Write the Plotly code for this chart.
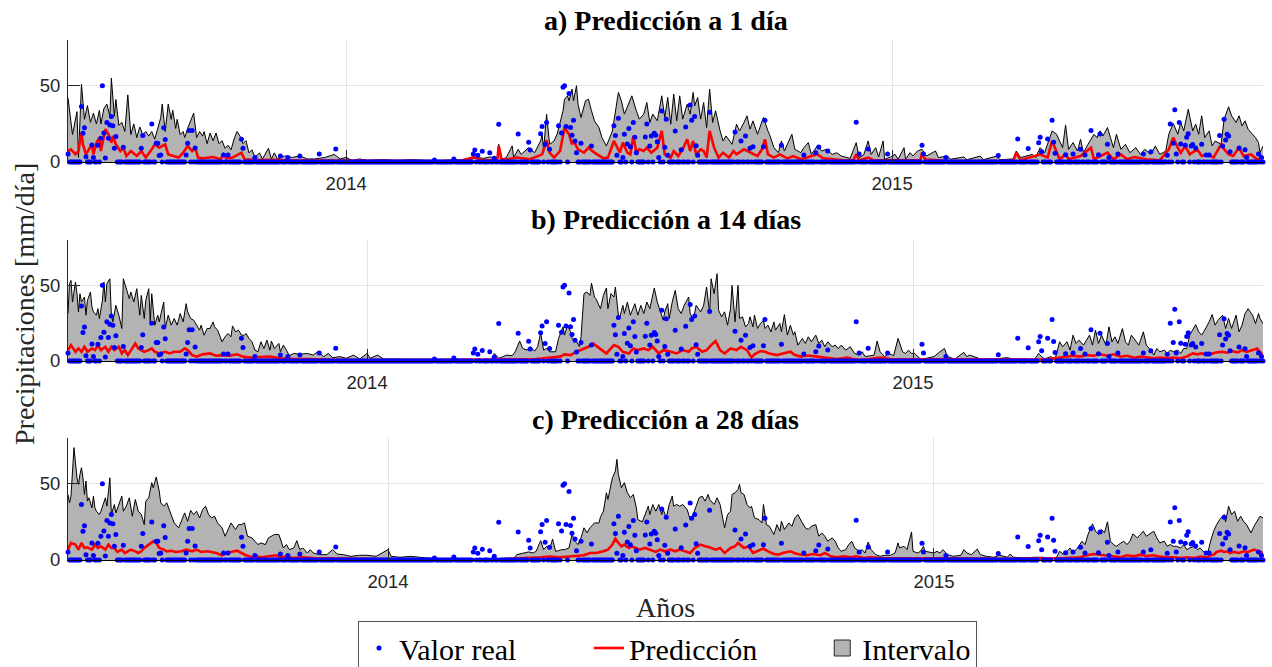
import pandas as pd
import plotly.graph_objects as go

# ---------------- data ----------------
N_DAYS = 800                                              # days shown in every panel
PANEL_START = ["2013-06-29", "2013-06-15", "2013-06-01"]  # first plotted date of each panel
TITLES = ["a) Predicción a 1 día", "b) Predicción a 14 días", "c) Predicción a 28 días"]
YEAR_TICKS = ["2014-01-01", "2015-01-01"]
YEAR_LABELS = ["2014", "2015"]
Y_TICKS = [0, 50]
Y_LABELS = ["0", "50"]

# observed rain (day index, mm/día); every other day reads 0
OBS_RAIN = [(0,5.3),(9,36.4),(10,18.9),(11,22.4),(12,3.5),(16,11.2),(17,3.0),(20,11.0),(22,15.6),(23,50.0),(24,19.0),(25,2.6),(26,25.9),(27,15.6),(28,24.3),(29,29.8),(30,23.7),(31,9.0),(32,16.7),(37,9.6),(49,9.0),(50,17.3),(56,25.0),(59,12.3),(60,12.3),(61,4.2),(62,4.6),(64,22.4),(65,14.7),(79,4.6),(80,12.3),(81,20.6),(83,20.6),(85,9.2),(104,4.6),(107,4.6),(116,15.0),(117,9.0),(125,3.0),(142,4.0),(147,3.0),(155,4.0),(168,5.3),(179,8.5),(245,1.3),(258,2.0),(271,5.3),(272,7.9),(274,4.4),(277,7.0),(282,6.1),(285,2.5),(288,24.8),(301,18.4),(308,13.0),(309,7.9),(316,18.6),(317,23.2),(319,11.6),(320,25.9),(322,8.3),(328,23.7),(330,19.0),(331,49.0),(332,50.0),(333,23.2),(335,45.0),(336,22.6),(337,17.5),(338,27.4),(339,13.8),(340,6.0),(343,12.3),(350,10.5),(365,23.7),(366,17.3),(367,4.4),(368,28.7),(371,3.0),(372,18.2),(374,11.8),(375,21.9),(376,10.0),(378,25.9),(379,16.2),(380,6.0),(386,16.4),(387,25.0),(389,10.5),(390,17.1),(392,18.9),(393,17.5),(394,13.2),(395,3.0),(397,33.5),(399,9.6),(400,28.0),(401,4.4),(406,20.4),(410,8.0),(413,23.0),(416,37.3),(417,27.4),(419,29.8),(420,10.7),(421,4.4),(429,32.7),(446,19.7),(450,13.8),(453,17.1),(456,9.0),(458,10.0),(465,10.0),(466,27.4),(477,11.0),(492,4.6),(500,6.1),(502,9.9),(508,7.2),(527,26.0),(529,5.3),(535,8.5),(548,5.3),(571,11.0),(572,5.3),(587,3.0),(622,4.2),(635,15.1),(642,8.8),(649,12.7),(650,16.2),(651,6.8),(655,15.1),(658,27.4),(659,12.9),(660,5.7),(667,4.8),(672,5.3),(677,8.3),(680,4.6),(684,20.6),(689,4.8),(690,18.4),(695,11.6),(696,3.0),(702,5.3),(719,5.3),(724,6.8),(735,4.4),(737,25.0),(739,12.3),(740,34.2),(741,5.3),(743,25.9),(744,11.8),(747,11.0),(748,16.2),(749,18.6),(751,10.5),(752,11.5),(754,9.2),(758,11.6),(761,4.6),(763,4.6),(770,17.3),(772,10.5),(773,28.0),(774,14.5),(775,18.2),(776,17.1),(777,6.8),(783,9.2),(787,8.1),(788,3.0),(796,5.3),(798,3.0)]

# upper bound of the interval (day index, mm/día)
UPPER_A = [(0,42),(3,18),(6,33),(7,3),(9,51),(11,28),(13,37),(15,26),(17,32),(19,25),(21,34),(22,25),(24,35),(26,38),(28,30),(29,55),(31,30),(32,41),(34,24),(36,26),(38,20),(40,44),(42,18),(44,25),(46,16),(48,23),(50,18),(52,20),(54,17),(56,20),(58,15),(60,22),(62,29),(63,38),(65,20),(67,38),(69,28),(70,34),(72,22),(73,28),(75,18),(77,20),(78,16),(80,22),(82,27),(84,32),(86,16),(88,20),(90,17),(91,20),(93,12),(95,19),(97,14),(99,19),(101,12),(103,14),(105,9),(107,11),(109,8),(111,15),(113,20),(115,17),(117,12),(119,14),(121,6),(123,8),(125,3),(128,6),(130,2),(134,9),(136,2),(138,6),(140,2),(145,4),(150,3),(155,4),(160,2),(165,2),(172,3),(178,5),(182,2),(186,3),(190,1),(195,2),(200,1),(210,1.5),(220,1),(230,1.5),(240,1),(250,1),(260,1.5),(266,1),(270,2),(273,3),
           (278,2.4),(282,3.3),(287,2.4),(288,11.6),(290,1.8),(293,2.9),(297,10.5),(298,2.9),(301,8.3),(303,5),(308,9.4),(312,6.1),(316,13.8),(317,18.2),(318,8.3),(320,31.4),(322,11.6),(325,13.8),(327,18.2),(329,25.9),(331,33.6),(332,41.2),(334,43.4),(335,40.1),(337,47.8),(338,40.1),(340,50),(341,37.9),(343,29.2),(346,40.1),(348,41.2),(350,33.6),(352,27),(355,22.6),(357,16),(360,10.5),(364,20.4),(368,45.6),(370,40.1),(372,31.4),(375,39),(377,43.4),(380,33.6),(382,28.1),(385,31.4),(387,39),(389,25.9),(391,31.4),(394,27),(397,43.4),(399,29.2),(401,42.3),(403,24.8),(405,44.5),(407,27),(409,43.4),(411,28.1),(414,37.9),(416,31.4),(418,45.6),(419,36.8),(421,42.3),(423,28.1),(425,39),(427,22.6),(429,47.8),(431,25.9),(433,33.6),(436,20.4),(438,13.8),(440,17.1),(444,11.6),(447,24.8),(449,20.4),(452,25.9),(454,30.3),(456,21.5),(458,27),(461,18.2),(463,23.7),(465,29.2),(468,20.4),(469,18.2),(472,9.4),(475,6.1),(477,13.8),(479,7.2),(484,18.2),(486,8.3),(490,6.1),(492,9.4),(495,12.7),(497,5),(501,10.5),(504,7.2),(507,8.3),(511,5),(514,6.1),(517,3.9),(523,2.4),(527,12.7),(529,2.9),(532,4.6),(535,13.8),(537,5),(540,9.4),(542,3.3),
           (545,13.8),(546,1.8),(550,3.3),(553,5),(555,1.8),(559,9.4),(560,1.8),(563,6.1),(565,3.9),(568,7.2),(571,8.3),(574,3.9),(580,7.2),(582,2.9),(588,3.9),(590,1.8),(599,3.3),(601,1.5),(610,3.9),(612,1.5),(621,3.9),(623,1.5),(632,2),(634,7.2),(637,2.9),(641,3.9),(645,5),(647,2.9),(650,9.4),(653,6.1),(658,20.4),(661,18.2),(665,9.4),(667,24.3),(669,8.3),(672,12.7),(675,7.2),(677,14.9),(679,6.1),(682,11.6),(686,18.2),(688,16),(690,20.4),(692,17.1),(695,22.6),(697,16),(699,9.4),(701,18.2),(704,8.3),(707,11.6),(710,6.1),(714,9.4),(717,5),(720,8.3),(724,5),(727,10.5),(730,5),(734,7.2),(736,18.2),(739,25.2),(742,18.2),(744,25.9),(746,20.4),(749,34.6),(752,20.4),(754,24.8),(756,18.2),(758,30.3),(760,16),(763,20.4),(765,10.5),(767,13.8),(771,11.6),(773,28.1),(776,36.2),(778,30.3),(781,25.9),(783,30.3),(785,23.7),(787,27),(789,21.5),(792,18.2),(794,16),(796,12.7),(797,6.1),(799,10.5)]

UPPER_B = [(0,31.4),(1,51.1),(2,53.3),(3,39),(5,52.2),(6,44.5),(7,32.5),(8,44.5),(9,39),(11,42.3),(12,30.3),(13,40.1),(15,45.6),(16,35.7),(17,32.5),(19,30.3),(20,34.6),(21,28.1),(23,40.1),(24,52.2),(25,39),(26,51.1),(28,54.4),(29,30.3),(30,25.9),(32,36.8),(34,30.3),(36,21.5),(37,54.4),(39,47.8),(41,41.2),(42,45.6),(44,39),(46,47.8),(48,30.3),(49,43.4),(51,28.1),(52,40.1),(54,47.8),(55,25.9),(56,44.5),(58,23.7),(60,30.3),(61,25.9),(64,39),(65,21.5),(67,30.3),(69,23.7),(71,28.1),(73,23.7),(75,31.4),(77,25.9),(79,37.9),(80,32.5),(82,28.1),(84,27),(86,23.7),(88,20.4),(89,23.7),(91,17.1),(93,21.5),(95,21.5),(97,25.9),(98,22.6),(100,20.4),(102,16),(103,12.7),(105,16),(107,18.2),(109,16),(110,23.2),(112,19.3),(114,20.4),(116,17.1),(118,17.1),(119,18.2),(121,14.9),(123,12.7),(125,7.2),(127,6.1),(129,12.7),(131,8.3),(133,13.8),(135,7.2),(136,13.2),(138,8.3),(141,11.6),(142,6.1),(144,10.5),(146,7.2),(148,3.5),(151,5),(155,4.4),(160,5),(164,3.9),(167,6.1),(171,2.9),(174,5),(177,2.2),(182,2.9),(186,1.8),(191,3.9),(195,1.3),(200,5),(202,1.8),(207,3.9),(211,1.3),(218,1.3),(229,0.9),(240,0.7),(262,0.7),(275,1.3),
           (278,0.7),(283,0.7),(285,5),(288,1.8),(291,2.9),(293,3.9),(297,3.5),(299,6.1),(302,13.2),(304,8.3),(307,7.2),(309,9.4),(312,6.6),(314,9.4),(316,18.6),(318,7.2),(320,8.3),(322,6.1),(326,6.1),(328,14.9),(331,22.6),(332,17.1),(334,23.7),(336,19.3),(337,14.9),(340,12.7),(342,9.4),(343,16),(345,44.5),(347,45.6),(349,43.4),(350,51.5),(352,42.3),(353,41.2),(356,34.6),(358,43.4),(360,48.2),(361,34.6),(363,44.5),(365,42.3),(366,48.9),(368,30.3),(369,29.2),(371,36.8),(372,31.4),(374,39),(376,30.3),(378,35.7),(379,37.9),(381,30.3),(383,36.8),(385,31.4),(387,39),(389,34.6),(391,43.4),(392,48.2),(394,39),(396,32.5),(398,27),(399,32.5),(401,37.9),(402,28.1),(404,39),(406,46.7),(408,34.6),(410,31.4),(412,36.8),(415,42.3),(416,31.4),(418,27),(420,36.8),(423,32.5),(425,36.8),(427,48.9),(429,31.4),(430,54.4),(432,44.5),(434,57.7),(435,33.6),(437,29.2),(439,32.5),(441,23.7),(443,34.6),(444,50),(446,25.9),(448,50),(449,28.1),(451,29.2),(453,22.6),(455,24.8),(456,29.2),(458,22.6),(459,30.3),(461,21.5),(463,24.8),(465,27),(466,21.5),(468,23.7),(470,19.3),(472,25.9),(473,20.4),(476,24.8),(477,19.3),(479,30.7),(481,17.1),(483,23.7),(485,17.1),(486,19.3),(488,10.5),(491,14.9),(493,11.6),(495,16),(497,12.7),(500,17.1),(502,11.6),(504,13.8),(506,9.4),(508,12.7),(511,9.4),(513,10.5),(515,8.3),(517,10.5),(520,7.2),(523,9.4),(526,5),(529,3.9),(531,6.1),(533,2.9),(536,3.5),(539,3.9),(541,13.2),(543,6.1),(546,2.9),
           (549,5),(552,3.5),(555,14.9),(558,6.1),(560,5),(562,7.2),(564,5),(566,5),(570,1.3),(574,1.8),(579,2.9),(583,6.1),(586,8.3),(588,2.9),(593,1.3),(599,5.7),(601,2.9),(603,3.9),(607,2.2),(610,1.3),(619,1.3),(628,2.2),(632,1.3),(641,1.3),(646,0.7),(649,5),(651,2.9),(653,1.3),(657,2.9),(660,1.3),(663,12.7),(665,9.4),(668,12.7),(670,7.2),(672,17.1),(674,11.6),(676,13.8),(679,10.5),(681,13.8),(683,17.1),(685,10.5),(687,20.4),(689,11.6),(691,17.1),(694,10.5),(696,22.6),(698,12.7),(700,16),(702,11.6),(705,21.5),(707,12.7),(709,10.5),(711,17.1),(714,12.7),(716,10.5),(719,19.3),(721,10.5),(724,7.2),(726,3.9),(728,8.3),(730,6.1),(733,7.2),(735,5),(737,7.2),(739,6.1),(742,7.2),(744,5),(746,8.3),(748,8.3),(750,17.1),(754,24.1),(756,19.3),(758,17.1),(760,20.4),(763,25.9),(765,30.7),(767,23.7),(769,27),(772,30.3),(774,21.5),(776,28.1),(778,21.5),(781,30.3),(783,19.3),(785,23.7),(787,31.4),(789,34.6),(792,30.3),(794,24.8),(796,31.4),(797,28.1),(799,24.8)]

UPPER_C = [(0,43),(1,37.5),(2,41.9),(3,62.7),(4,73.7),(6,53.9),(7,49.6),(8,56.1),(9,60.5),(10,53.9),(11,43),(12,51.8),(13,38.6),(14,40.8),(16,34.2),(17,41.9),(18,34.2),(19,32),(21,29.8),(22,32),(25,40.8),(26,35.3),(28,53.9),(29,29.8),(31,36.4),(32,30.9),(34,36.4),(36,41.9),(37,32),(39,35.3),(41,40.8),(43,28.7),(45,39.7),(47,32),(49,29.8),(51,23.2),(52,38.6),(54,40.8),(56,50.7),(57,47.4),(59,54.4),(61,45.2),(62,37.5),(64,35.3),(66,37.5),(68,32),(69,29.8),(71,24.3),(74,21.1),(76,26.5),(78,30.9),(80,25.4),(82,32.5),(84,29.8),(86,32),(88,27.6),(90,33.1),(92,35.3),(94,29.8),(96,27.6),(98,28.7),(100,24.3),(103,21.1),(105,15.6),(107,20),(109,24.3),(112,20),(114,23.2),(116,23.2),(118,24.3),(120,15.6),(123,14.5),(125,12.3),(127,10.1),(129,11.2),(132,10.1),(134,14.5),(136,15.6),(138,16.7),(141,16.7),(143,10.1),(144,7.9),(146,10.1),(148,6.8),(151,7.9),(153,12.7),(155,6.8),(157,7.9),(160,4.6),(162,6.8),(164,4.6),(168,3.5),(173,3.5),(177,6.8),(180,3.9),(184,3.5),(189,2.4),(195,3.1),(200,3.1),(206,2.4),(214,6.8),(216,2.4),(222,1.8),(229,2.4),(235,1.8),(240,1.3),(251,0.9),(262,0.9),(275,0.9),
           (282,0.9),(298,0.9),(300,3.5),(304,4.6),(308,5.3),(311,4.6),(313,5.7),(316,12.7),(318,6.8),(320,9),(322,6.8),(324,13.8),(326,5.7),(328,6.1),(330,6.8),(332,6.8),(335,7.9),(337,16.7),(339,12.3),(341,10.1),(343,14.5),(345,21.1),(347,17.8),(349,21.1),(350,22.1),(352,24.3),(355,24.3),(356,28.1),(358,32),(360,44.1),(361,39.7),(363,49.6),(364,53.9),(366,58.3),(367,66),(368,56.1),(370,47.4),(372,50.7),(374,44.1),(376,40.8),(378,43),(380,34.2),(381,26.5),(384,25),(386,29.8),(388,35.3),(389,29.8),(391,36.4),(393,32),(395,36.4),(397,29.8),(398,33.1),(400,27.6),(402,36.4),(404,41.9),(405,35.3),(407,36.4),(409,35.3),(411,36.4),(414,33.1),(416,26.5),(418,29.8),(420,35.3),(422,40.8),(424,41.9),(426,38.6),(428,43),(429,39.7),(432,36.4),(434,40.8),(436,36.4),(438,26.5),(439,21.1),(441,29.8),(443,32),(444,43),(446,44.1),(448,46.3),(449,49.6),(450,44.1),(452,43),(454,36.4),(456,34.2),(457,35.3),(459,27.6),(462,26.5),(464,24.3),(465,36.4),(467,23.2),(469,22.1),(472,16.7),(474,23.2),(476,18.9),(477,25.4),(479,20),(482,24.3),(484,22.1),(486,27.6),(488,29.8),(491,24.3),(493,21.1),(495,20),(497,22.1),(500,23.2),(502,15.6),(504,17.8),(506,15.6),(508,12.3),(511,14.5),(513,12.3),(515,7.9),(517,5.7),(520,6.8),(522,10.1),(524,12.3),(526,7.9),(529,5.7),(531,6.8),(533,4.6),(535,11.8),(537,6.8),(540,3.5),(543,2.4),(546,3.1),
           (550,3.1),(553,4.6),(555,11.2),(556,7.9),(559,9),(561,6.8),(564,18.4),(565,5.7),(568,4.6),(570,5.7),(572,9),(573,5.7),(575,5.3),(579,4.6),(581,5.7),(583,4.6),(585,6.8),(588,3.5),(592,2.4),(597,3.1),(599,6.8),(601,4.6),(604,3.5),(608,7.2),(610,3.5),(614,2.4),(619,1.8),(623,3.1),(628,1.8),(630,3.9),(632,1.8),(639,1.3),(646,1.8),(652,1.8),(657,1.3),(661,1.8),(663,5.7),(666,3.5),(668,5.7),(670,7.9),(672,4.6),(675,7.9),(678,12.3),(680,10.1),(682,16.7),(685,23.7),(687,18.9),(689,16.7),(691,20),(693,17.8),(695,25),(697,12.3),(699,10.1),(701,9),(704,11.2),(706,12.3),(708,10.1),(710,12.3),(712,17.1),(715,14.5),(717,16.7),(719,18.9),(721,15.6),(724,17.8),(726,18.9),(728,14.5),(730,11.2),(733,12.3),(735,9),(737,10.1),(739,9),(741,9),(744,7.9),(746,10.1),(748,6.8),(750,7.9),(753,9),(755,6.8),(757,7.9),(759,5.7),(762,4.6),(764,12.3),(766,18.9),(768,23.2),(770,26.5),(773,29.8),(774,25),(776,35.3),(778,29.8),(780,32),(782,25.4),(784,28.7),(786,25.4),(788,23.2),(791,17.8),(793,22.1),(795,25.4),(797,28.7),(799,27.6)]

# prediction (day index, mm/día)
PRED_A = [(0,7.2),(2,8.3),(5,5),(7,7.2),(9,19.3),(10,11.6),(12,5),(16,11.6),(17,5),(19,12.7),(21,16),(22,7.2),(25,21.5),(27,18.2),(29,12.7),(30,17.1),(32,11.6),(35,7.2),(37,9.4),(39,3.9),(42,7.2),(46,3.9),(49,7.2),(52,2.9),(56,8.3),(58,11.6),(61,9.4),(65,11.6),(67,5),(70,3.9),(74,2.9),(77,6.1),(80,10.5),(83,7.2),(85,9.4),(87,2.9),(90,2.4),(97,3.3),(102,1.8),(104,5),(106,2.4),(110,2.9),(116,6.1),(118,1.8),(128,1.3),(139,1.5),(150,0.9),(173,0.9),(195,0.7),(217,0.7),(240,0.7),(262,0.7),(272,3.3),(275,1.8),
          (278,1.1),(287,1.1),(288,10.5),(290,1.1),(300,2.9),(309,1.8),(317,5),(320,14.3),(322,6.1),(325,2.9),(329,7.2),(332,22.6),(335,18.2),(337,11.6),(338,13.8),(341,8.3),(345,6.1),(348,9.4),(352,6.1),(358,2.4),(361,2.9),(365,13.8),(367,9.4),(369,6.1),(371,12.7),(374,6.1),(376,5),(378,17.1),(380,6.1),(382,8.3),(385,7.2),(387,9.4),(390,6.1),(394,9.4),(397,20.4),(399,5),(403,2.9),(405,7.2),(408,3.9),(411,8.3),(414,14.9),(416,7.2),(418,13.8),(420,5),(423,8.3),(425,7.2),(427,2.9),(429,20.4),(432,9.4),(435,2.9),(438,6.1),(442,2.9),(445,7.2),(447,5),(452,8.3),(456,6.1),(461,3.9),(464,8.3),(466,14.9),(468,5),(472,2.9),(476,5),(481,2.4),(485,3.9),(490,1.8),(494,2.9),(501,5),(505,2.4),(512,1.8),(519,1.1),(525,1.1),(527,5),(529,1.1),(535,2.9),(539,1.1),
          (556,1.1),(570,1.1),(571,6.1),(573,1.8),(588,0.7),(610,0.7),(632,0.7),(634,6.1),(637,1.1),(650,5),(655,2.9),(658,13.8),(660,9.4),(663,1.8),(667,5),(669,1.8),(677,3.9),(684,9.4),(686,1.8),(690,3.9),(695,6.1),(699,1.8),(704,5),(708,1.8),(713,3.3),(721,1.8),(730,1.1),(736,8.3),(739,16),(742,9.4),(744,6.1),(747,10.5),(750,5),(755,8.3),(758,3.9),(762,5),(766,2.9),(771,11.6),(773,8.3),(776,5),(779,3.9),(783,9.4),(786,3.9),(791,5),(795,1.8),(799,2.4)]

PRED_B = [(0,7.2),(2,10.5),(5,6.1),(7,8.3),(9,6.1),(11,9.4),(13,6.1),(16,8.3),(18,7.2),(20,10.5),(22,7.2),(25,9.4),(27,6.1),(29,9.4),(31,7.2),(34,9.4),(36,5),(38,7.2),(40,3.9),(42,7.2),(45,11.6),(47,8.3),(49,7.2),(51,6.1),(54,7.2),(56,8.3),(58,6.1),(61,5),(65,6.1),(68,5),(71,6.1),(75,6.1),(78,8.3),(80,7.2),(83,3.9),(86,2.9),(90,4.4),(95,5),(99,3.5),(104,3.9),(108,3.5),(113,4.4),(117,2.9),(123,2.2),(128,2.6),(135,2.9),(142,1.8),(151,1.3),(162,1.3),(173,0.9),(195,0.7),(217,0.7),(275,0.7),
          (291,0.9),(313,1.3),(320,1.8),(325,2.2),(329,2.9),(332,4.4),(336,3.9),(340,6.1),(345,8.3),(348,9.4),(351,11.6),(355,8.3),(357,7.2),(360,5),(362,7.2),(365,10.5),(368,9.4),(371,6.1),(375,5),(378,8.3),(381,7.2),(385,8.3),(388,7.2),(391,9.4),(395,5),(398,7.2),(403,6.1),(407,5),(411,7.2),(415,6.1),(417,8.3),(420,9.4),(424,6.1),(427,7.2),(430,10.5),(433,13.2),(436,7.2),(439,5),(443,8.3),(447,7.2),(450,9.4),(454,7.2),(457,2.2),(459,4.4),(463,6.6),(466,6.1),(469,5),(474,3.9),(478,5),(483,6.1),(486,3.9),(490,2.9),(493,3.5),(496,3.5),(501,2.9),(505,2.2),(510,1.8),(514,1.3),(521,2.2),(525,1.3),(530,0.7),(536,1.3),(543,2.2),
          (550,1.3),(565,0.9),(588,1.1),(610,0.9),(632,0.9),(655,1.1),(659,1.8),(663,2.2),(668,2.9),(672,3.5),(677,2.9),(681,3.9),(686,3.5),(690,4.4),(695,3.5),(699,4.4),(704,2.9),(708,3.5),(713,2.2),(717,2.9),(721,2.2),(726,1.8),(730,2.2),(735,1.8),(739,2.2),(744,1.8),(748,2.9),(752,5),(755,4.4),(758,5),(762,3.9),(765,5),(768,5.7),(772,6.1),(775,5.5),(778,6.6),(782,5.7),(785,7.2),(788,6.1),(792,7.2),(795,8.3),(797,6.1),(799,3.9)]

PRED_C = [(0,6.8),(2,11.2),(5,10.1),(7,6.8),(9,11.2),(11,7.9),(13,8.3),(16,6.8),(18,10.1),(20,7.9),(22,9),(25,6.8),(27,10.1),(29,7.9),(31,7.9),(33,5.3),(36,6.8),(38,4.6),(40,5.7),(42,6.8),(45,5.7),(47,4.6),(49,5.7),(51,7.9),(54,10.1),(57,12.3),(59,11.2),(61,7.9),(64,6.8),(66,5.7),(69,6.1),(72,5.3),(76,5.7),(79,6.8),(83,5.7),(86,6.8),(89,5.3),(93,5.7),(96,5.3),(99,4.6),(103,3.1),(106,4.6),(109,5.3),(113,6.1),(116,4.6),(119,3.1),(123,1.8),(126,2.4),(129,1.8),(133,2.2),(136,2.4),(139,3.1),(143,1.8),(146,2.2),(150,1.3),(157,1.8),(164,1.3),(173,1.1),(184,0.9),(195,0.7),(217,0.4),(275,0.4),
          (291,0.7),(316,1.8),(322,2.2),(329,1.8),(336,2.4),(340,3.1),(345,3.1),(349,4.6),(353,4.6),(358,5.7),(361,6.8),(364,10.1),(366,14),(368,11.2),(370,9),(372,10.1),(375,7.9),(377,9),(379,7.9),(382,6.8),(386,7.9),(389,6.8),(393,5.3),(396,6.8),(399,5.7),(403,6.8),(406,5.7),(409,6.8),(413,5.7),(416,4.6),(419,7.9),(423,10.1),(426,9),(429,8.3),(433,6.8),(436,7.9),(439,4.6),(443,7.9),(446,9),(448,11.2),(452,7.9),(455,9),(458,4.6),(462,6.1),(465,7.5),(468,5.7),(472,3.9),(475,3.5),(478,4.6),(483,5.7),(486,4.4),(490,3.5),(494,3.1),(498,3.9),(503,3.1),(506,4.6),(510,2.4),(514,1.8),(519,2.4),(523,1.8),(527,2.4),(532,1.3),(536,1.8),(543,1.3),
          (554,1.3),(565,0.9),(588,0.9),(610,0.9),(632,0.7),(655,0.9),(666,1.3),(677,1.8),(681,3.1),(686,3.9),(690,3.5),(695,3.1),(699,2.6),(704,1.8),(708,3.1),(713,2.4),(717,3.5),(721,2.6),(726,3.1),(730,2.2),(735,1.8),(739,1.8),(744,1.3),(748,1.8),(753,1.3),(757,2.2),(762,1.8),(764,3.1),(766,3.5),(768,5.3),(771,6.1),(773,5.3),(775,5.7),(777,4.6),(779,5.3),(783,4.6),(786,5.7),(789,5.3),(793,6.8),(796,5.7),(799,4.6)]

UPPERS = [UPPER_A, UPPER_B, UPPER_C]
PREDS = [PRED_A, PRED_B, PRED_C]

# ---------------- figure ----------------
W, H = 1272, 667
GRAY = "#b3b3b3"
AXC = "#262626"
SERIF = "Liberation Serif, Times New Roman, serif"
SANS = "Liberation Sans, Arial, sans-serif"

# vertical pixel extents (top, bottom) of each panel's plot area
PANEL_PX = [(40, 162), (240, 361), (438, 560)]
TITLE_PX = [20, 220, 419]

obs_daily = [0.0] * N_DAYS
for d, v in OBS_RAIN:
    obs_daily[d] = v


def to_dates(start, days):
    return pd.to_datetime(start) + pd.to_timedelta(list(days), unit="D")


fig = go.Figure()
layout = {}
for i in range(3):
    sfx = "" if i == 0 else str(i + 1)
    xa, ya = "x" + sfx, "y" + sfx
    start = PANEL_START[i]
    ud = [d for d, _ in UPPERS[i]]
    uv = [v for _, v in UPPERS[i]]
    pdd = [d for d, _ in PREDS[i]]
    pv = [v for _, v in PREDS[i]]

    fig.add_trace(go.Scatter(x=to_dates(start, ud), y=uv, mode="lines", fill="tozeroy",
                             fillcolor=GRAY, line=dict(color="black", width=1),
                             showlegend=False, xaxis=xa, yaxis=ya, hoverinfo="skip"))
    fig.add_trace(go.Scatter(x=to_dates(start, pdd), y=pv, mode="lines",
                             line=dict(color="#ff0000", width=2.6),
                             showlegend=False, xaxis=xa, yaxis=ya))
    fig.add_trace(go.Scatter(x=to_dates(start, range(N_DAYS)), y=obs_daily, mode="markers",
                             marker=dict(color="#0000ff", size=5), cliponaxis=False,
                             showlegend=False, xaxis=xa, yaxis=ya))

    top, bot = PANEL_PX[i]
    end = pd.to_datetime(start) + pd.Timedelta(days=N_DAYS - 1)
    layout["xaxis" + sfx] = dict(
        domain=[0, 1], anchor=ya, type="date",
        range=[pd.to_datetime(start), end],
        tickvals=YEAR_TICKS, ticktext=YEAR_LABELS,
        ticks="inside", ticklen=12, tickcolor=AXC, tickwidth=1,
        showgrid=True, gridcolor="#e3e3e3", gridwidth=1,
        showline=True, linecolor="black", linewidth=1.3,
        zeroline=False, ticklabelstandoff=5,
        tickfont=dict(family=SANS, size=18.5, color=AXC),
    )
    layout["yaxis" + sfx] = dict(
        domain=[1 - bot / H, 1 - top / H], anchor=xa,
        range=[0, 80], tickvals=Y_TICKS, ticktext=Y_LABELS,
        ticks="inside", ticklen=12, tickcolor=AXC, tickwidth=1,
        showgrid=True, gridcolor="#e3e3e3", gridwidth=1,
        showline=True, linecolor=AXC, linewidth=1,
        zeroline=False, ticklabelstandoff=3,
        tickfont=dict(family=SANS, size=18.5, color=AXC),
    )

# legend entries
NBSP = "\u00a0"
fig.add_trace(go.Scatter(x=[None], y=[None], mode="markers", name="Valor real" + NBSP * 9,
                         marker=dict(color="#0000ff", size=5)))
fig.add_trace(go.Scatter(x=[None], y=[None], mode="lines", name="Predicción" + NBSP * 8,
                         line=dict(color="#ff0000", width=2.6)))
fig.add_trace(go.Scatter(x=[None], y=[None], mode="markers", name="Intervalo",
                         marker=dict(color=GRAY, size=16, symbol="square",
                                     line=dict(color=AXC, width=1))))

L, R = 68, 9
PW = W - L - R
annotations = []
for i in range(3):
    annotations.append(dict(text=TITLES[i], xref="paper", yref="paper", x=0.5, y=1 - TITLE_PX[i] / H,
                            xanchor="center", yanchor="middle", showarrow=False,
                            font=dict(family=SERIF, size=28, color="black", weight="bold")))
annotations.append(dict(text="Precipitaciones [mm/día]", xref="paper", yref="paper",
                        x=(25 - L) / PW, y=1 - 304 / H, xanchor="center", yanchor="middle",
                        textangle=-90, showarrow=False,
                        font=dict(family=SERIF, size=28, color=AXC)))
annotations.append(dict(text="Años", xref="paper", yref="paper",
                        x=0.5, y=1 - 607 / H, xanchor="center", yanchor="middle",
                        showarrow=False, font=dict(family=SERIF, size=28, color=AXC)))

fig.update_layout(
    width=W, height=H,
    margin=dict(l=L, r=R, t=0, b=0, autoexpand=False),
    paper_bgcolor="white", plot_bgcolor="white",
    showlegend=True,
    legend=dict(orientation="h", x=(358 - L) / PW, xanchor="left",
                y=1 - 621 / H, yanchor="top",
                font=dict(family=SERIF, size=30, color="black"),
                bgcolor="white", bordercolor="#555555", borderwidth=1),
    annotations=annotations,
    **layout,
)

fig.write_html("out.html")
